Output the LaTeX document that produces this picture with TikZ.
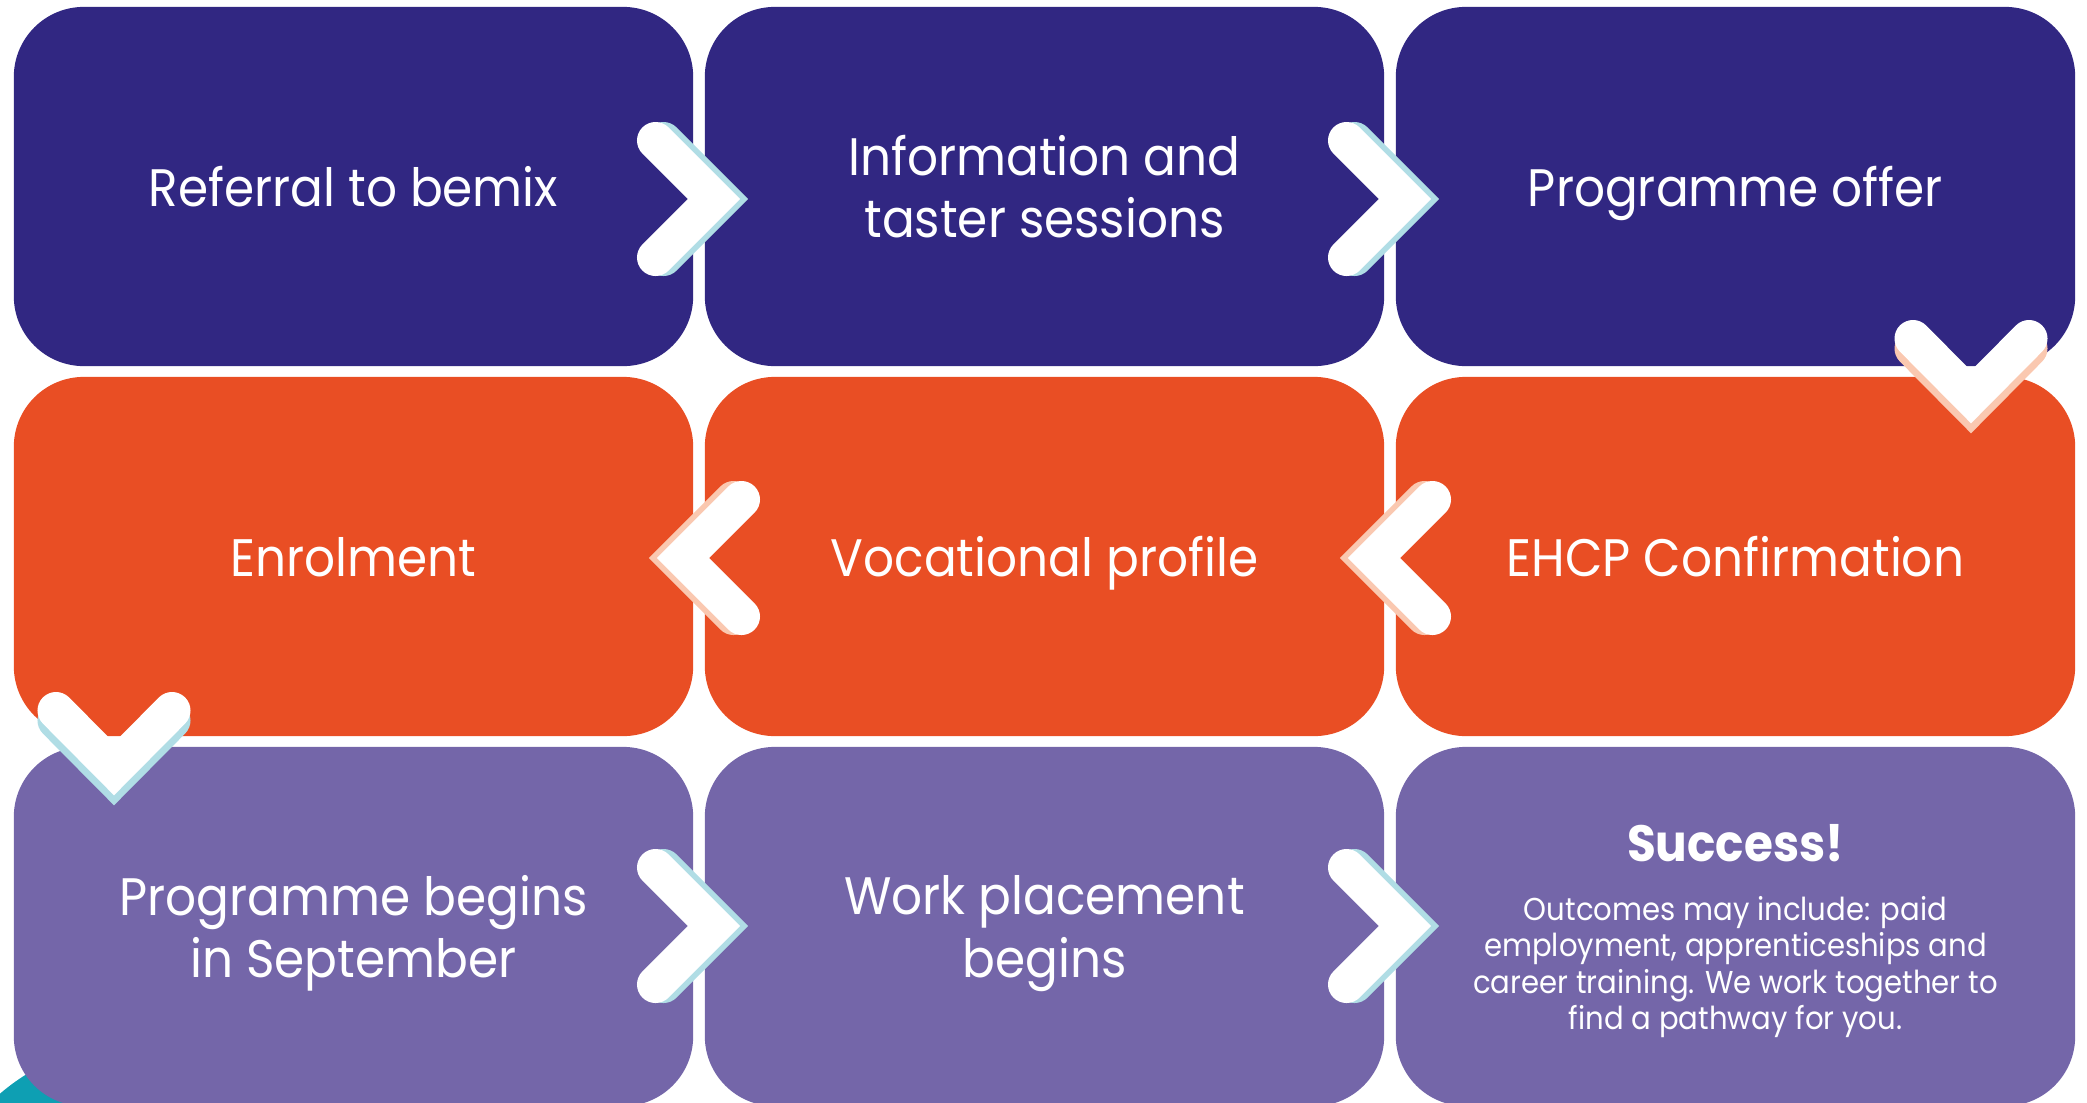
\documentclass[tikz,border=0pt]{standalone}
\usepackage{fontspec}
\setmainfont{Poppins}[FakeStretch=0.92]

\definecolor{navy}{HTML}{312782}
\definecolor{rust}{HTML}{E94E24}
\definecolor{lilac}{HTML}{7466A9}
\definecolor{teal}{HTML}{0E9FB3}
\definecolor{iceshade}{HTML}{B0DDE5}
\definecolor{peachshade}{HTML}{FAC8B0}

\tikzset{
  stepbox/.style={rounded corners=0.7cm, minimum width=6.79cm, minimum height=3.59cm,
    inner sep=0pt, align=center, text depth=0pt, text=white, font=\fontsize{15}{17.7}\selectfont},
  chevline/.style={line width=0.37cm, line cap=round, line join=miter},
}

% tip, first arm, second arm, shadow offset, shadow colour
\newcommand{\chevron}[5]{%
  \draw[chevline,#5] ([shift={#4}]#1) ++#2 -- ([shift={#4}]#1) -- ++#3;
  \draw[chevline,white] (#1) ++#2 -- (#1) -- ++#3;
}

\begin{document}
\begin{tikzpicture}[x=0.01cm,y=-0.01cm]

\useasboundingbox (0,0) rectangle (2087,1102);

\fill[teal] (140,1257) circle (2.15cm);

% row one
\node[stepbox,fill=navy] (referral) at (353.5,186.5) {Referral to bemix};
\node[stepbox,fill=navy] (taster) at (1044.5,186.5) {Information and\\taster sessions};
\node[stepbox,fill=navy] (offer) at (1735.5,186.5) {Programme offer};

% row two
\node[stepbox,fill=rust] (enrol) at (353.5,556.5) {Enrolment};
\node[stepbox,fill=rust] (profile) at (1044.5,556.5) {Vocational profile};
\node[stepbox,fill=rust] (ehcp) at (1735.5,556.5) {EHCP Confirmation};

% row three
\node[stepbox,fill=lilac] (begins) at (353.5,926.5) {Programme begins\\in September};
\node[stepbox,fill=lilac] (placement) at (1044.5,926.5) {Work placement\\begins};
\node[stepbox,fill=lilac] (success) at (1735.5,926.5) {};

\node[text=white,font=\fontsize{14.5}{17}\bfseries] (successhead) at (1735.5,843) {Success!};
\node[text=white,align=center,font=\fontsize{9}{10.4}\selectfont] (successtext) at (1735.5,967)
  {Outcomes may include: paid\\employment, apprenticeships and\\career training. We work together to\\find a pathway for you.};

% chevron tips
\path (714,199) coordinate (R1);
\path (1405,199) coordinate (R2);
\path (683,558) coordinate (L1);
\path (1374,558) coordinate (L2);
\path (714,926) coordinate (R3);
\path (1405,926) coordinate (R4);
\path (1971,397) coordinate (D1);
\path (114,769) coordinate (D2);

\chevron{R1}{(-58.5,-58.5)}{(-58.5,58.5)}{(8,0)}{iceshade}
\chevron{R2}{(-58.5,-58.5)}{(-58.5,58.5)}{(8,0)}{iceshade}
\chevron{L1}{(58.5,-58.5)}{(58.5,58.5)}{(-8,0)}{peachshade}
\chevron{L2}{(58.5,-58.5)}{(58.5,58.5)}{(-8,0)}{peachshade}
\chevron{R3}{(-58.5,-58.5)}{(-58.5,58.5)}{(8,0)}{iceshade}
\chevron{R4}{(-58.5,-58.5)}{(-58.5,58.5)}{(8,0)}{iceshade}
\chevron{D1}{(-58,-58.5)}{(58,-58.5)}{(0,10)}{peachshade}
\chevron{D2}{(-58,-58.5)}{(58,-58.5)}{(0,10)}{iceshade}

\end{tikzpicture}
\end{document}
